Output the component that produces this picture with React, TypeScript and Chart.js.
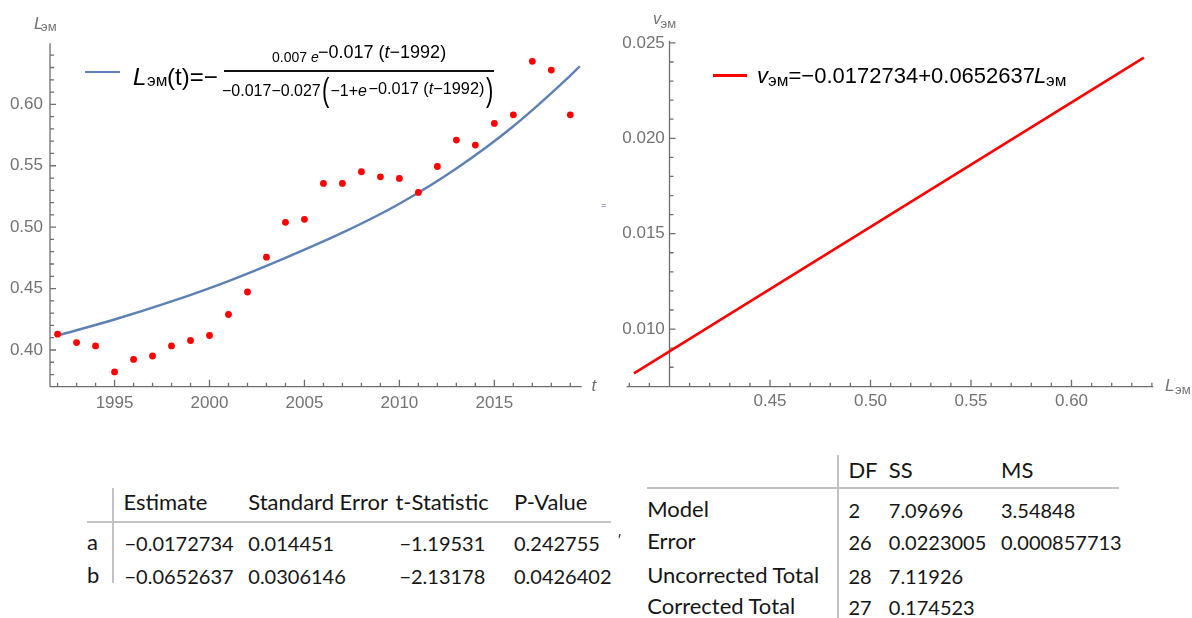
import React, { useEffect, useRef } from 'react';
import { Chart, registerables } from 'chart.js';

Chart.register(...registerables);

// ---------- data ----------
const YEARS = [1992, 1993, 1994, 1995, 1996, 1997, 1998, 1999, 2000, 2001, 2002, 2003, 2004, 2005,
  2006, 2007, 2008, 2009, 2010, 2011, 2012, 2013, 2014, 2015, 2016, 2017, 2018, 2019];
const L_EM = [0.4129, 0.4060, 0.4033, 0.3821, 0.3923, 0.3951, 0.4033, 0.4077, 0.4118, 0.4289, 0.4472,
  0.4756, 0.5039, 0.5064, 0.5356, 0.5356, 0.5451, 0.5410, 0.5397, 0.5283, 0.5494, 0.5709, 0.5668,
  0.5845, 0.5915, 0.6350, 0.6279, 0.5915];

const FIT_T = [1992, 1995, 1998, 2001, 2004, 2007, 2010, 2013, 2016, 2019, 2019.5];
const FIT_L = [0.4118, 0.4248, 0.4395, 0.4561, 0.4750, 0.4955, 0.5191, 0.5478, 0.5822, 0.6234, 0.6310];

const REG_L = [0.3823, 0.636];
const REG_V = [0.00768, 0.02423];

const X1_TICKS = [1995, 2000, 2005, 2010, 2015];
const Y1_TICKS = [0.40, 0.45, 0.50, 0.55, 0.60];
const X2_TICKS = [0.45, 0.50, 0.55, 0.60];
const Y2_TICKS = [0.010, 0.015, 0.020, 0.025];

const PARAM_HEADERS = ['Estimate', 'Standard Error', 't-Statistic', 'P-Value'];
const PARAM_NAMES = ['a', 'b'];
const PARAM_VALUES = [
  ['\u22120.0172734', '0.014451', '\u22121.19531', '0.242755'],
  ['\u22120.0652637', '0.0306146', '\u22122.13178', '0.0426402'],
];
const ANOVA_HEADERS = ['DF', 'SS', 'MS'];
const ANOVA_NAMES = ['Model', 'Error', 'Uncorrected Total', 'Corrected Total'];
const ANOVA_VALUES = [
  ['2', '7.09696', '3.54848'],
  ['26', '0.0223005', '0.000857713'],
  ['28', '7.11926', ''],
  ['27', '0.174523', ''],
];

// ---------- styling ----------
const SANS = '"Liberation Sans", Arial, sans-serif';
const TABLE_FONT = 'Lato, "Open Sans", sans-serif';
const AXIS_COLOR = '#6e6e6e';
const LABEL_COLOR = '#737373';
const TICK_FONT = { family: '"Liberation Sans", Arial, sans-serif', size: 17 };

function range(a: number, b: number, div: number, skipEvery: number) {
  const out: number[] = [];
  for (let i = a; i <= b; i++) if (i % skipEvery !== 0) out.push(i / div);
  return out;
}

function mmaAxes(o: { xMinor: number[]; xMajor: number[]; yMinor: number[]; yMajor: number[]; yAxisAtX?: number }) {
  return {
    id: 'mmaAxes',
    beforeDatasetsDraw(chart: any) {
      const { ctx, chartArea } = chart;
      const xs = chart.scales.x;
      const ys = chart.scales.y;
      const ax = o.yAxisAtX !== undefined ? xs.getPixelForValue(o.yAxisAtX) : chartArea.left;
      const ay = chartArea.bottom;
      ctx.save();
      ctx.strokeStyle = AXIS_COLOR;
      ctx.lineWidth = 1.3;
      ctx.beginPath();
      ctx.moveTo(chartArea.left, ay);
      ctx.lineTo(chartArea.right, ay);
      ctx.moveTo(ax, ay);
      ctx.lineTo(ax, chartArea.top);
      const xt = (vals: number[], len: number) => vals.forEach((v) => {
        const p = xs.getPixelForValue(v);
        ctx.moveTo(p, ay);
        ctx.lineTo(p, ay - len);
      });
      const yt = (vals: number[], len: number) => vals.forEach((v) => {
        const p = ys.getPixelForValue(v);
        ctx.moveTo(ax, p);
        ctx.lineTo(ax + len, p);
      });
      xt(o.xMinor, 4);
      xt(o.xMajor, 7);
      yt(o.yMinor, 4);
      yt(o.yMajor, 6);
      ctx.stroke();
      ctx.restore();
    },
  };
}

function Run(p: { x: number; base: number; size: number; italic?: boolean; color?: string; family?: string; k?: number; children: any; style?: any }) {
  const k = p.k ?? 0.8465;
  return (
    <div style={{
      position: 'absolute', left: p.x, top: p.base - k * p.size, fontSize: p.size, lineHeight: `${p.size}px`,
      height: p.size, fontFamily: p.family ?? SANS, fontStyle: p.italic ? 'italic' : 'normal',
      color: p.color ?? '#000', whiteSpace: 'nowrap', ...(p.style || {}),
    }}>{p.children}</div>
  );
}

function LeftChart() {
  const ref = useRef<HTMLCanvasElement>(null);
  useEffect(() => {
    const chart = new Chart(ref.current as HTMLCanvasElement, {
      type: 'scatter',
      data: {
        datasets: [
          {
            type: 'scatter',
            data: YEARS.map((t, i) => ({ x: t, y: L_EM[i] })),
            backgroundColor: '#FF0000',
            borderWidth: 0,
            pointRadius: 3.4,
            order: 0,
          } as any,
          {
            type: 'line',
            data: FIT_T.map((t, i) => ({ x: t, y: FIT_L[i] })),
            borderColor: '#5E81B5',
            borderWidth: 2.4,
            pointRadius: 0,
            cubicInterpolationMode: 'monotone',
            fill: false,
            order: 1,
          } as any,
        ],
      },
      options: {
        responsive: false,
        animation: false,
        events: [],
        layout: { padding: { left: 0, right: 18.3, top: 43.3, bottom: 0 } },
        plugins: { legend: { display: false }, tooltip: { enabled: false } },
        scales: {
          x: {
            type: 'linear', min: 1991.6, max: 2019.6,
            grid: { display: false, drawTicks: false }, border: { display: false },
            ticks: { color: LABEL_COLOR, font: TICK_FONT, padding: 6, maxRotation: 0, autoSkip: false, callback: (v: any) => String(v) },
            afterBuildTicks: (s: any) => { s.ticks = X1_TICKS.map((v) => ({ value: v })); },
            afterFit: (s: any) => { s.height = 33.3; },
          },
          y: {
            type: 'linear', min: 0.3701, max: 0.6497,
            grid: { display: false, drawTicks: false }, border: { display: false },
            ticks: { color: LABEL_COLOR, font: TICK_FONT, padding: 7, autoSkip: false, callback: (v: any) => Number(v).toFixed(2) },
            afterBuildTicks: (s: any) => { s.ticks = Y1_TICKS.map((v) => ({ value: v })); },
            afterFit: (s: any) => { s.width = 50; },
          },
        },
      } as any,
      plugins: [mmaAxes({
        xMajor: X1_TICKS, xMinor: range(1992, 2019, 1, 5),
        yMajor: Y1_TICKS, yMinor: range(38, 64, 100, 5),
      })],
    });
    return () => chart.destroy();
  }, []);
  return <canvas ref={ref} width={600} height={420} style={{ position: 'absolute', left: 0, top: 0, width: 600, height: 420 }} />;
}

function RightChart() {
  const ref = useRef<HTMLCanvasElement>(null);
  useEffect(() => {
    const chart = new Chart(ref.current as HTMLCanvasElement, {
      type: 'line',
      data: {
        datasets: [{
          data: REG_L.map((x, i) => ({ x, y: REG_V[i] })),
          borderColor: '#FF0000',
          borderWidth: 2.6,
          pointRadius: 0,
          fill: false,
        }],
      },
      options: {
        responsive: false,
        animation: false,
        events: [],
        layout: { padding: { left: 26.7, right: 38.7, top: 41, bottom: 0 } },
        plugins: { legend: { display: false }, tooltip: { enabled: false } },
        scales: {
          x: {
            type: 'linear', min: 0.3787, max: 0.6407, position: 'bottom',
            grid: { display: false, drawTicks: false }, border: { display: false },
            ticks: { color: LABEL_COLOR, font: TICK_FONT, padding: 4, maxRotation: 0, autoSkip: false, callback: (v: any) => Number(v).toFixed(2) },
            afterBuildTicks: (s: any) => { s.ticks = X2_TICKS.map((v) => ({ value: v })); },
            afterFit: (s: any) => { s.height = 33.3; },
          },
          y: {
            type: 'linear', min: 0.00698, max: 0.0251, position: { x: 0.40 },
            grid: { display: false, drawTicks: false }, border: { display: false },
            ticks: { color: LABEL_COLOR, font: TICK_FONT, padding: 6, autoSkip: false, callback: (v: any) => Number(v).toFixed(3) + ' ' },
            afterBuildTicks: (s: any) => { s.ticks = Y2_TICKS.map((v) => ({ value: v })); },
          },
        },
      } as any,
      plugins: [mmaAxes({
        xMajor: X2_TICKS, xMinor: range(38, 64, 100, 5),
        yMajor: Y2_TICKS, yMinor: range(8, 25, 1000, 5),
        yAxisAtX: 0.40,
      })],
    });
    return () => chart.destroy();
  }, []);
  return <canvas ref={ref} width={592} height={420} style={{ position: 'absolute', left: 600, top: 0, width: 592, height: 420 }} />;
}

function Paren({ x, cy, ch }: { x: number; cy: number; ch: string }) {
  const size = 22;
  return (
    <div style={{
      position: 'absolute', left: x, top: cy - 0.5875 * size, fontSize: size, lineHeight: `${size}px`, height: size,
      fontFamily: SANS, color: '#000', transform: 'scaleY(1.5)', transformOrigin: '50% 58.75%',
    }}>{ch}</div>
  );
}

const NUMERIC = /^[\u22120-9.]+$/;

function Overlays() {
  const T = (x: number, base: number, s: string) => {
    const num = NUMERIC.test(s);
    return <Run x={x} base={base} size={num ? 20 : 22} family={TABLE_FONT} k={0.887} color="#161616">{s}</Run>;
  };
  const pCols = [123.4, 248.3, 395.4, 514];
  const pValCols = [124.5, 248.3, 399.4, 514];
  const pRowBase = [550.7, 583.3];
  const aCols = [848.4, 888.8, 1001];
  const aRowBase = [517.3, 550, 583.3, 615];
  return (
    <>
      {/* left chart axis titles */}
      <Run x={34} base={29.3} size={17} italic color={LABEL_COLOR}>L</Run>
      <Run x={41} base={31} size={13} color={LABEL_COLOR}>эм</Run>
      <Run x={591.5} base={391.7} size={17} italic color={LABEL_COLOR}>t</Run>

      {/* left legend */}
      <div style={{ position: 'absolute', left: 85, top: 71.3, width: 35, height: 2, background: '#5E81B5' }} />
      <Run x={133} base={85} size={24} italic>L</Run>
      <Run x={147} base={86.5} size={17}>эм</Run>
      <Run x={167} base={85} size={24}>(t)=−</Run>
      <Run x={272} base={61.7} size={14}>0.007 <i>e</i></Run>
      <Run x={318} base={58} size={18}>−0.017 (<i>t</i>−1992)</Run>
      <div style={{ position: 'absolute', left: 224, top: 70, width: 270, height: 1.6, background: '#111' }} />
      <Run x={222} base={96.7} size={16}>−0.017−0.027</Run>
      <Paren x={322} cy={93.3} ch="(" />
      <Run x={330.5} base={96.7} size={16}>−1+<i>e</i></Run>
      <Run x={368.5} base={93.3} size={16.3}>−0.017 (<i>t</i>−1992)</Run>
      <Paren x={486} cy={93.3} ch=")" />

      {/* right chart axis titles */}
      <Run x={653} base={25} size={16} italic color={LABEL_COLOR}>v</Run>
      <Run x={660.5} base={28} size={13} color={LABEL_COLOR}>эм</Run>
      <Run x={1165} base={391.7} size={17} italic color={LABEL_COLOR}>L</Run>
      <Run x={1175} base={394} size={13} color={LABEL_COLOR}>эм</Run>
      <Run x={601} base={209} size={9} color="#3d4f9a">=</Run>

      {/* right legend */}
      <div style={{ position: 'absolute', left: 713, top: 73.6, width: 34, height: 3.3, background: '#FF0000' }} />
      <Run x={757} base={83.3} size={22} italic>v</Run>
      <Run x={768} base={86} size={17}>эм</Run>
      <Run x={788.5} base={83.3} size={22}>=−0.0172734+0.0652637</Run>
      <Run x={1034} base={83.3} size={22} italic>L</Run>
      <Run x={1046} base={86} size={17}>эм</Run>

      {/* parameter table */}
      <div style={{ position: 'absolute', left: 112, top: 488, width: 2, height: 95, background: '#c2c2c2' }} />
      <div style={{ position: 'absolute', left: 87, top: 521.3, width: 524, height: 2, background: '#c2c2c2' }} />
      {PARAM_HEADERS.map((h, i) => <React.Fragment key={'ph' + i}>{T(pCols[i], 510.7, h)}</React.Fragment>)}
      {PARAM_NAMES.map((n, r) => (
        <React.Fragment key={'pr' + r}>
          {T(87, pRowBase[r], n)}
          {PARAM_VALUES[r].map((v, c) => <React.Fragment key={'pv' + c}>{T(pValCols[c], pRowBase[r], v)}</React.Fragment>)}
        </React.Fragment>
      ))}

      {/* ANOVA table */}
      <Run x={618} base={547} size={16} color="#333">′</Run>
      <div style={{ position: 'absolute', left: 837, top: 455, width: 2, height: 163, background: '#c2c2c2' }} />
      <div style={{ position: 'absolute', left: 647, top: 487.3, width: 472, height: 2, background: '#c2c2c2' }} />
      {ANOVA_HEADERS.map((h, i) => <React.Fragment key={'ah' + i}>{T(aCols[i], 479, h)}</React.Fragment>)}
      {ANOVA_NAMES.map((n, r) => (
        <React.Fragment key={'ar' + r}>
          {T(647.2, aRowBase[r], n)}
          {ANOVA_VALUES[r].map((v, c) => (v ? <React.Fragment key={'av' + c}>{T(aCols[c], aRowBase[r], v)}</React.Fragment> : null))}
        </React.Fragment>
      ))}
    </>
  );
}

export default function App() {
  return (
    <div style={{ position: 'fixed', left: 0, top: 0, width: 1192, height: 618, background: '#fff', overflow: 'hidden' }}>
      <LeftChart />
      <RightChart />
      <Overlays />
    </div>
  );
}
